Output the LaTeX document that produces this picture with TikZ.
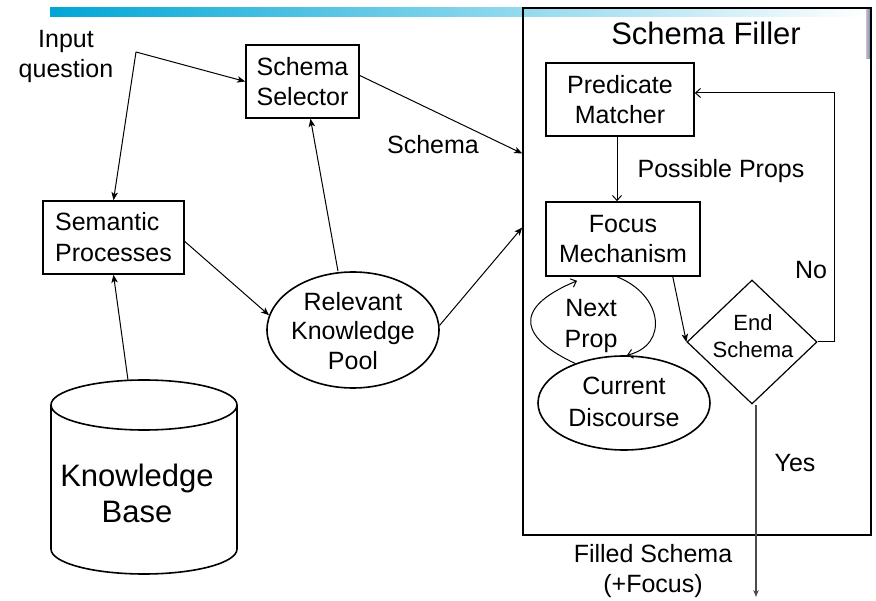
\documentclass[tikz,border=0pt]{standalone}
\usepackage{fontspec}
\setmainfont{Liberation Sans}
\usetikzlibrary{shapes.geometric,arrows.meta}

\definecolor{barblue}{RGB}{0,166,214}
\definecolor{tabgray}{RGB}{118,118,156}

% font sizes used in the chart
\newcommand\mainsz{\fontsize{25}{30}\selectfont}
\newcommand\bigsz{\fontsize{31}{36}\selectfont}
\newcommand\smallsz{\fontsize{22}{27}\selectfont}

\begin{document}
\begin{tikzpicture}[x=1pt,y=-1pt,
  box/.style={draw, line width=1.6pt, inner sep=0pt, align=center, font=\mainsz},
  ell/.style={draw, ellipse, line width=1.6pt, inner sep=0pt},
  txt/.style={inner sep=0pt, align=center, font=\mainsz},
  arr/.style={line width=1pt, -{Stealth[length=8pt,width=6.5pt,inset=2pt]}},
  varr/.style={line width=1pt, -{Straight Barb[length=5pt,width=9pt]}},
]
\fill[white] (0,0) rectangle (876,601);
\useasboundingbox (0,0) rectangle (876,601);

% title bar and side tab
\shade[left color=barblue, right color=white] (50,8) rectangle (866,17);
\shade[left color=tabgray!45, right color=tabgray] (866,10) rectangle (871,59);

% schema filler frame
\node[draw, line width=1.6pt, minimum width=348pt, minimum height=527pt, inner sep=0pt] (sf) at (697,271.5) {};
\node[txt, font=\bigsz] (sftitle) at (706,33) {Schema Filler};

% left side
\node[txt] (inq) at (66,56) {Input\\question};
\coordinate (split) at (136,52);
\node[box, minimum width=113pt, minimum height=73pt] (ss) at (302.5,81.5) {Schema\\Selector};
\node[box, minimum width=141pt, minimum height=73pt, align=left, font=\fontsize{25}{31}\selectfont] (sp) at (113.5,237.5) {Semantic\\Processes};
\node[ell, minimum width=172pt, minimum height=116pt] (rkp) at (353,330) {};
\node[txt, font=\fontsize{25}{29.5}\selectfont] (rkptext) at (353,331) {Relevant\\Knowledge\\Pool};
\node[txt] (schlabel) at (433,145) {Schema};

% knowledge base cylinder
\draw[line width=1.6pt] (51,405) -- (51,549) arc[start angle=180, end angle=360, x radius=93pt, y radius=25pt] -- (237,405);
\draw[line width=1.6pt] (144,405) ellipse [x radius=93pt, y radius=25pt];
\node[txt, font=\bigsz] (kb) at (137,493) {Knowledge\\Base};
\coordinate (kbtop) at (128,380);

% inside the schema filler
\node[box, minimum width=148pt, minimum height=73pt] (pm) at (620,99.5) {Predicate\\Matcher};
\node[box, minimum width=154pt, minimum height=74pt] (fm) at (623,239) {Focus\\Mechanism};
\node[ell, minimum width=172pt, minimum height=94pt] (cd) at (624,403) {};
\node[txt, font=\fontsize{25}{32}\selectfont] (cdtext) at (624,402) {Current\\Discourse};
\node[draw, diamond, line width=1.2pt, minimum width=130pt, minimum height=124pt, inner sep=0pt] (dia) at (752,342) {};
\node[txt, font=\smallsz] (diatext) at (753,336) {End\\Schema};
\node[txt] (pplabel) at (721,171.5) {Possible Props};
\node[txt, font=\fontsize{25}{31}\selectfont] (nplabel) at (591,326) {Next\\Prop};
\node[txt] (nolabel) at (811,270) {No};
\node[txt] (yeslabel) at (795,463.5) {Yes};
\node[txt] (outlabel) at (653,571.5) {Filled Schema\\(+Focus)};
\coordinate (nocorner) at (834,93);
\coordinate (out) at (756,597);

% connectors
\draw[arr] (split) -- (ss.west);
\draw[arr] (split) -- (sp.north);
\draw[arr] (kbtop) -- (sp.south);
\draw[arr] ([yshift=-4pt]sp.east) -- (rkp.170);
\draw[arr] ([xshift=-15pt]rkp.north) -- ([xshift=8pt]ss.south);
\draw[arr] ([yshift=6pt]ss.east) -- ([yshift=118pt]sf.west);
\draw[arr] (rkp.3) -- ([yshift=44pt]sf.west);
\draw[varr] ([xshift=-3pt]pm.south) -- ([xshift=-3pt]pm.south |- fm.north);
\draw[arr] ([xshift=-28pt]fm.south east) -- (dia.west);
\draw[varr] (dia.east) -| (nocorner) -- ([yshift=6.5pt]pm.east);
\draw[line width=1.3pt, black!70, -{Stealth[length=7pt,width=5.5pt]}] ([xshift=4pt]dia.south) -- (out);
\draw[varr] ([xshift=-6pt]fm.south) .. controls (663,295) and (669,345) .. ([xshift=3pt]cd.north);
\draw[varr] (cd.141) .. controls (525,340) and (507,310) .. ([xshift=-46pt,yshift=-4pt]fm.south);
\end{tikzpicture}
\end{document}
